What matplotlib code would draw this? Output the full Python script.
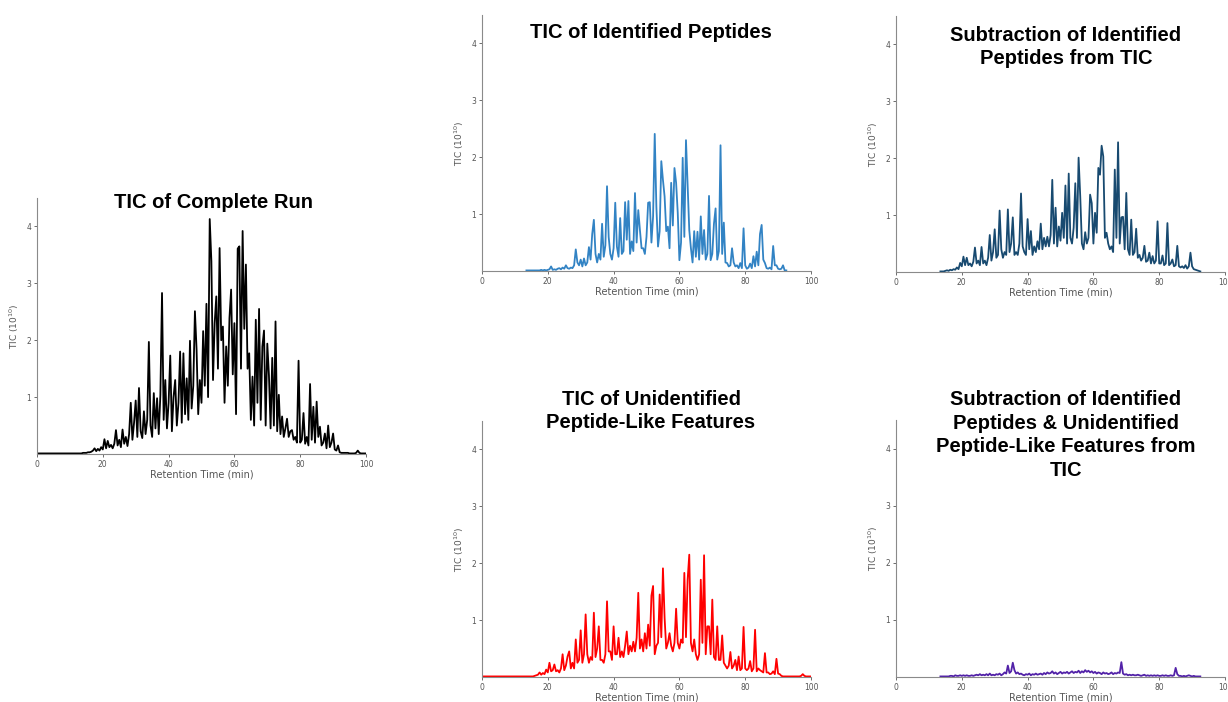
import numpy as np
import matplotlib
matplotlib.use("Agg")
import matplotlib.pyplot as plt

nan = np.nan

# Retention time grid (min), one sample every 0.5 min from 0 to 100
rt = np.arange(0, 100.5, 0.5)

# TIC values in units of 1e10
tic_complete = [0.01] * 28 + [
    0.02, 0.02, 0.02, 0.03, 0.03, 0.04, 0.06, 0.10, 0.05, 0.09,
    0.06, 0.12, 0.08, 0.26, 0.10, 0.23, 0.12, 0.16, 0.10, 0.18,
    0.42, 0.15, 0.25, 0.12, 0.43, 0.18, 0.30, 0.14, 0.35, 0.90,
    0.25, 0.55, 0.94, 0.30, 1.16, 0.40, 0.28, 0.75, 0.35, 0.60,
    1.97, 0.50, 0.30, 1.07, 0.45, 0.98, 0.35, 1.04, 2.83, 0.60,
    1.30, 0.45, 0.90, 1.73, 0.40, 1.00, 1.30, 0.50, 0.90, 1.80,
    0.55, 1.77, 0.70, 1.33, 0.60, 1.99, 0.80, 1.20, 2.51, 1.84,
    0.70, 1.30, 0.90, 2.16, 1.20, 2.64, 1.00, 4.13, 3.39, 1.30,
    2.30, 2.77, 1.50, 3.62, 2.00, 2.24, 0.90, 1.89, 1.20, 2.39,
    2.89, 1.40, 2.30, 0.70, 3.61, 3.65, 1.50, 3.92, 2.20, 3.33,
    1.50, 1.77, 0.60, 1.36, 0.50, 2.36, 0.90, 2.55, 0.60, 1.89,
    2.17, 0.50, 1.94, 1.38, 0.45, 1.69, 0.50, 2.33, 0.40, 1.04,
    0.35, 0.66, 0.30, 0.45, 0.62, 0.30, 0.40, 0.42, 0.25, 0.30,
    0.20, 1.64, 0.20, 0.25, 0.72, 0.18, 0.30, 0.15, 1.23, 0.25,
    0.83, 0.20, 0.92, 0.30, 0.48, 0.15, 0.20, 0.36, 0.10, 0.50,
    0.12, 0.20, 0.36, 0.08, 0.06, 0.15, 0.03, 0.02, 0.02, 0.02,
    0.02,
    0.02, 0.01, 0.01, 0.01, 0.01, 0.02, 0.06, 0.02, 0.01, 0.01, 0.01, 0.01,
]

tic_identified = [nan] * 27 + [0.01] + [
    0.01, 0.01, 0.01, 0.01, 0.01, 0.01, 0.01, 0.01, 0.02, 0.01,
    0.02, 0.01, 0.02, 0.03, 0.08, 0.02, 0.03, 0.02, 0.04, 0.05,
    0.03, 0.06, 0.04, 0.10, 0.05, 0.04, 0.06, 0.05, 0.10, 0.38,
    0.15, 0.10, 0.20, 0.08, 0.22, 0.10, 0.15, 0.42, 0.20, 0.65,
    0.90, 0.30, 0.15, 0.30, 0.20, 0.83, 0.25, 0.45, 1.49, 0.60,
    0.30, 0.20, 0.40, 1.20, 0.43, 0.25, 0.93, 0.30, 0.35, 1.21,
    0.55, 1.23, 0.30, 0.52, 0.35, 1.37, 0.50, 1.07, 0.72, 0.40,
    0.40, 0.30, 0.60, 1.20, 1.21, 0.50, 0.96, 2.41, 1.13, 0.43,
    0.70, 1.93, 1.60, 1.31, 0.70, 0.78, 0.40, 1.55, 0.80, 1.81,
    1.55, 1.02, 0.19, 0.50, 1.99, 0.60, 2.30, 1.49, 0.72, 0.40,
    0.15, 0.70, 0.25, 0.69, 0.20, 0.96, 0.30, 0.72, 0.20, 0.30,
    1.32, 0.19, 0.30, 0.83, 1.10, 0.20, 0.35, 2.21, 0.30, 0.85,
    0.15, 0.14, 0.08, 0.10, 0.40, 0.15, 0.08, 0.10, 0.05, 0.14,
    0.05, 0.75, 0.10, 0.04, 0.06, 0.13, 0.05, 0.26, 0.08, 0.34,
    0.10, 0.65, 0.81, 0.20, 0.14, 0.05, 0.04, 0.06, 0.03, 0.44,
    0.10, 0.10, 0.04, 0.03, 0.04, 0.10, 0.01, 0.01, nan, nan,
    nan,
] + [nan] * 12

tic_minus_identified = [nan] * 27 + [0.01] + [
    0.01, 0.01, 0.02, 0.03, 0.02, 0.04, 0.03, 0.05, 0.04, 0.08,
    0.05, 0.16, 0.10, 0.27, 0.12, 0.25, 0.12, 0.15, 0.10, 0.18,
    0.43, 0.15, 0.20, 0.12, 0.44, 0.15, 0.20, 0.12, 0.25, 0.65,
    0.20, 0.35, 0.75, 0.25, 0.30, 1.08, 0.40, 0.25, 0.35, 0.30,
    1.10, 0.35, 0.50, 0.96, 0.30, 0.35, 0.30, 0.50, 1.38, 0.45,
    0.35, 0.30, 0.93, 0.40, 0.72, 0.30, 0.45, 0.35, 0.54, 0.40,
    0.85, 0.40, 0.60, 0.45, 0.62, 0.45, 0.65, 1.62, 0.50, 1.13,
    0.45, 0.80, 0.55, 1.04, 0.60, 1.52, 0.50, 1.73, 0.60, 0.50,
    0.78, 1.56, 0.60, 2.01, 1.33, 0.50, 0.40, 0.70, 0.50, 0.60,
    1.36, 1.21, 0.50, 1.04, 0.69, 1.83, 1.71, 2.22, 2.03, 0.60,
    0.69, 0.50, 0.40, 0.45, 0.35, 1.80, 0.60, 2.28, 0.50, 0.96,
    0.97, 0.40, 1.39, 0.40, 0.30, 0.92, 0.30, 0.35, 0.76, 0.25,
    0.30, 0.20, 0.25, 0.46, 0.18, 0.20, 0.34, 0.15, 0.28, 0.15,
    0.20, 0.89, 0.15, 0.15, 0.29, 0.12, 0.15, 0.86, 0.12, 0.15,
    0.22, 0.10, 0.12, 0.46, 0.10, 0.08, 0.10, 0.07, 0.12, 0.06,
    0.10, 0.34, 0.10, 0.05, 0.04, 0.03, 0.02, 0.01, nan, nan,
    nan,
] + [nan] * 12

tic_unidentified = [0.01] * 28 + [
    0.01, 0.01, 0.01, 0.01, 0.02, 0.03, 0.04, 0.08, 0.04, 0.07,
    0.05, 0.13, 0.08, 0.25, 0.10, 0.12, 0.22, 0.10, 0.12, 0.08,
    0.15, 0.40, 0.12, 0.20, 0.36, 0.45, 0.15, 0.25, 0.15, 0.66,
    0.25, 0.30, 0.82, 0.25, 0.40, 1.10, 0.40, 0.25, 0.35, 0.30,
    1.13, 0.35, 0.50, 0.89, 0.30, 0.30, 0.25, 0.40, 1.33, 0.45,
    0.45, 0.30, 0.89, 0.40, 0.40, 0.69, 0.35, 0.45, 0.35, 0.55,
    0.80, 0.40, 0.55, 0.45, 0.62, 0.45, 0.69, 1.48, 0.50, 0.66,
    0.45, 0.77, 0.50, 0.92, 0.55, 1.43, 1.60, 0.40, 0.55, 0.60,
    1.45, 0.70, 1.91, 1.04, 0.50, 0.60, 0.77, 0.55, 0.45, 0.60,
    1.20, 0.60, 0.50, 0.66, 0.60, 1.83, 0.70, 1.71, 2.15, 0.60,
    0.45, 0.66, 0.40, 0.30, 0.40, 1.71, 0.60, 2.14, 0.40, 0.89,
    0.89, 0.40, 1.36, 0.35, 0.30, 0.89, 0.30, 0.30, 0.73, 0.25,
    0.20, 0.15, 0.20, 0.44, 0.15, 0.20, 0.30, 0.12, 0.36, 0.12,
    0.15, 0.88, 0.15, 0.12, 0.15, 0.28, 0.10, 0.15, 0.83, 0.10,
    0.15, 0.12, 0.10, 0.08, 0.42, 0.08, 0.08, 0.05, 0.06, 0.10,
    0.05, 0.32, 0.06, 0.05, 0.02, 0.01, 0.01, 0.01, 0.01, 0.01,
    0.01,
    0.01, 0.01, 0.01, 0.01, 0.01, 0.02, 0.05, 0.02, 0.01, 0.01, 0.01, 0.01,
]

tic_residual = [nan] * 27 + [0.01] + [
    0.01, 0.01, 0.01, 0.01, 0.01, 0.02, 0.02, 0.01, 0.03, 0.02,
    0.02, 0.03, 0.02, 0.03, 0.02, 0.03, 0.02, 0.02, 0.03, 0.02,
    0.03, 0.04, 0.03, 0.05, 0.03, 0.04, 0.03, 0.05, 0.03, 0.06,
    0.03, 0.04, 0.03, 0.05, 0.04, 0.06, 0.03, 0.05, 0.08, 0.06,
    0.20, 0.07, 0.10, 0.25, 0.12, 0.06, 0.08, 0.05, 0.06, 0.04,
    0.03, 0.05, 0.04, 0.06, 0.03, 0.05, 0.04, 0.06, 0.04, 0.05,
    0.06, 0.04, 0.07, 0.05, 0.08, 0.06, 0.07, 0.10, 0.06, 0.08,
    0.05, 0.07, 0.09, 0.06, 0.08, 0.07, 0.09, 0.06, 0.08, 0.10,
    0.07, 0.09, 0.08, 0.11, 0.07, 0.10, 0.08, 0.12, 0.09, 0.11,
    0.08, 0.10, 0.07, 0.09, 0.06, 0.08, 0.07, 0.05, 0.08, 0.06,
    0.07, 0.05, 0.06, 0.08, 0.05, 0.07, 0.06, 0.08, 0.07, 0.26,
    0.06, 0.04, 0.05, 0.03, 0.04, 0.03, 0.04, 0.03, 0.03, 0.04,
    0.03, 0.02, 0.03, 0.04, 0.02, 0.03, 0.02, 0.03, 0.02, 0.03,
    0.02, 0.03, 0.02, 0.02, 0.03, 0.02, 0.03, 0.02, 0.02, 0.03,
    0.02, 0.03, 0.16, 0.05, 0.02, 0.02, 0.01, 0.02, 0.01, 0.02,
    0.03, 0.02, 0.01, 0.02, 0.01, 0.01, 0.01, 0.01, nan, nan,
    nan,
] + [nan] * 12

titles = [
    "TIC of Complete Run",
    "TIC of Identified Peptides",
    "Subtraction of Identified\nPeptides from TIC",
    "TIC of Unidentified\nPeptide-Like Features",
    "Subtraction of Identified\nPeptides & Unidentified\nPeptide-Like Features from\nTIC",
]
series = [tic_complete, tic_identified, tic_minus_identified, tic_unidentified, tic_residual]
colors = ["black", "#3283c4", "#184a70", "red", "#5222a8"]

W, H = 1228, 702
fig = plt.figure(figsize=(W / 100, H / 100), dpi=100)

# panel layout in pixels: (left, baseline, top) and title centre (x, y)
panels = [
    (37, 454, 198, 214, 203),
    (482, 271, 15, 651, 32),
    (896, 272, 16, 1066, 47),
    (482, 677, 421, 651, 411),
    (896, 677, 420, 1066, 435),
]
axis_grey = "#555555"

for (left, base, top, tx, ty), vals, title, color in zip(panels, series, titles, colors):
    ax = fig.add_axes([left / W, 1 - base / H, 329 / W, (base - top) / H])
    ax.plot(rt, np.array(vals, dtype=float), color=color, lw=1.3)
    ax.set_xlim(0, 100)
    ax.set_ylim(0, 4.5)
    ax.set_xticks([0, 20, 40, 60, 80, 100])
    ax.set_yticks([1, 2, 3, 4])
    for side in ["top", "right"]:
        ax.spines[side].set_visible(False)
    for side in ["left", "bottom"]:
        ax.spines[side].set_color("#8a8a8a")
        ax.spines[side].set_linewidth(0.8)
    ax.tick_params(labelsize=5.5, colors=axis_grey, length=2.5, width=0.6, pad=1.5)
    ax.set_xlabel("Retention Time (min)", fontsize=7, color=axis_grey, labelpad=0.5)
    ax.set_ylabel("TIC (10$^{10}$)", fontsize=6.5, color=axis_grey, labelpad=4)
    fig.text(tx / W, 1 - ty / H, title, ha="center", va="center",
             fontsize=14.5, fontweight="bold", family="Liberation Sans",
             multialignment="center", linespacing=1.32)

fig.savefig("out.png", dpi=100)
plt.close(fig)
